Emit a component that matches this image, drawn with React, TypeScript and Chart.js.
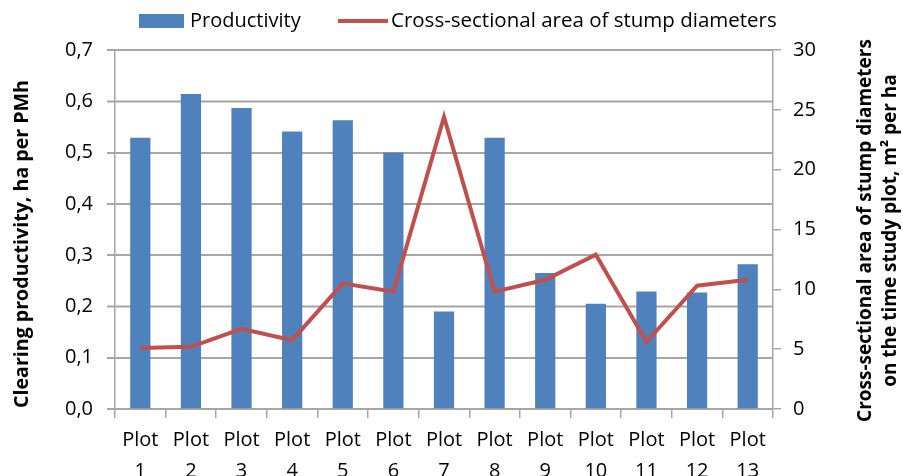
import React, { useEffect, useRef } from "react";
import { Chart, registerables } from "chart.js";

Chart.register(...registerables);

const categories: string[][] = [
  ["Plot", "1"], ["Plot", "2"], ["Plot", "3"], ["Plot", "4"], ["Plot", "5"],
  ["Plot", "6"], ["Plot", "7"], ["Plot", "8"], ["Plot", "9"], ["Plot", "10"],
  ["Plot", "11"], ["Plot", "12"], ["Plot", "13"],
];
const productivity: number[] = [0.529, 0.614, 0.587, 0.541, 0.563, 0.5, 0.19, 0.529, 0.265, 0.205, 0.229, 0.227, 0.282];
const stumpArea: number[] = [5.1, 5.2, 6.7, 5.75, 10.5, 9.8, 24.4, 9.8, 10.8, 12.9, 5.6, 10.3, 10.8];

const leftTitle = "Clearing productivity, ha per PMh";
const rightTitle = ["Cross-sectional area of stump diameters", "on the time study plot, m² per ha"];
const seriesNames = ["Productivity", "Cross-sectional area of stump diameters"];

const FONT = "'Open Sans', sans-serif";
const BAR = "#4F81BD";
const LINE = "#C0504D";
const GRID = "#A6A6A6";

// Horizontal grid lines of the left axis, placed through the library's y scale.
const gridPlugin = {
  id: "gridPlugin",
  beforeDatasetsDraw(chart: any) {
    const ctx = chart.ctx as CanvasRenderingContext2D;
    const area = chart.chartArea;
    const y = chart.scales.y;
    ctx.save();
    ctx.strokeStyle = GRID;
    ctx.lineWidth = 1.5;
    for (const t of y.ticks) {
      const py = Math.round(y.getPixelForValue(t.value)) + 0.25;
      ctx.beginPath();
      ctx.moveTo(area.left - 8, py);
      ctx.lineTo(area.right, py);
      ctx.stroke();
    }
    ctx.restore();
  },
};

const textPlugin = {
  id: "textPlugin",
  afterDraw(chart: any) {
    const ctx = chart.ctx as CanvasRenderingContext2D;
    const area = chart.chartArea;
    ctx.save();
    ctx.textBaseline = "middle";
    ctx.textAlign = "left";
    const ly = 21;
    ctx.fillStyle = BAR;
    ctx.fillRect(139, ly - 7, 45, 14);
    ctx.fillStyle = "#000";
    ctx.font = `20px ${FONT}`;
    ctx.fillText(chart.data.datasets[0].label, 190, ly);
    ctx.strokeStyle = LINE;
    ctx.lineWidth = 4;
    ctx.beginPath();
    ctx.moveTo(338, ly);
    ctx.lineTo(388, ly);
    ctx.stroke();
    ctx.font = `20.5px ${FONT}`;
    ctx.fillText(chart.data.datasets[1].label, 391, ly);
    ctx.restore();

    ctx.save();
    ctx.fillStyle = "#000";
    ctx.textBaseline = "middle";
    ctx.textAlign = "center";
    ctx.font = `bold 19.6px ${FONT}`;
    ctx.translate(22, 244);
    ctx.rotate(-Math.PI / 2);
    ctx.fillText(leftTitle, 0, 0);
    ctx.restore();

    ctx.save();
    ctx.fillStyle = "#000";
    ctx.textBaseline = "middle";
    ctx.textAlign = "center";
    ctx.font = `bold 19px ${FONT}`;
    ctx.translate(866, (area.top + area.bottom) / 2 + 1);
    ctx.rotate(-Math.PI / 2);
    ctx.fillText(rightTitle[0], 0, 0);
    ctx.fillText(rightTitle[1], 0, 25);
    ctx.restore();
  },
};

export default function App() {
  const ref = useRef<HTMLCanvasElement>(null);
  useEffect(() => {
    if (!ref.current) return;
    const chart = new Chart(ref.current, {
      type: "bar",
      data: {
        labels: categories,
        datasets: [
          {
            type: "bar",
            label: seriesNames[0],
            data: productivity,
            backgroundColor: BAR,
            borderWidth: 0,
            categoryPercentage: 1,
            barPercentage: 0.4,
            yAxisID: "y",
            order: 1,
          },
          {
            type: "line",
            label: seriesNames[1],
            data: stumpArea,
            borderColor: LINE,
            borderWidth: 4,
            pointRadius: 0,
            yAxisID: "y2",
            order: 0,
          } as any,
        ],
      },
      options: {
        responsive: false,
        animation: false,
        layout: { padding: { top: 50 } },
        plugins: { legend: { display: false }, tooltip: { enabled: false } },
        scales: {
          x: {
            offset: true,
            grid: { offset: true, drawOnChartArea: false, tickLength: 9, color: GRID, lineWidth: 1.5 },
            border: { color: GRID, width: 1.5 },
            ticks: {
              autoSkip: false,
              maxRotation: 0,
              padding: 7,
              color: "#000",
              font: { family: FONT, size: 20, lineHeight: 1.55 },
            },
            afterFit(scale: any) { scale.height = 67; },
          },
          y: {
            position: "left",
            min: 0,
            max: 0.7,
            ticks: {
              stepSize: 0.1,
              padding: 14,
              color: "#000",
              font: { family: FONT, size: 20 },
              callback: (v: any) => Number(v).toFixed(1).replace(".", ","),
            },
            grid: { color: GRID, lineWidth: 1.5, tickLength: 8 },
            border: { color: GRID, width: 1.5 },
            afterFit(scale: any) { scale.width = 115; },
          },
          y2: {
            position: "right",
            min: 0,
            max: 30,
            ticks: {
              stepSize: 5,
              padding: 12,
              color: "#000",
              font: { family: FONT, size: 20 },
            },
            grid: { drawOnChartArea: false, color: GRID, lineWidth: 1.5, tickLength: 8 },
            border: { color: GRID, width: 1.5 },
            afterFit(scale: any) { scale.width = 130; },
          },
        },
      },
      plugins: [gridPlugin, textPlugin],
    });
    return () => chart.destroy();
  }, []);
  return (
    <div style={{ position: "fixed", left: 0, top: 0, width: 903, height: 476, background: "#fff" }}>
      <canvas ref={ref} width={903} height={476} style={{ display: "block" }} />
    </div>
  );
}
